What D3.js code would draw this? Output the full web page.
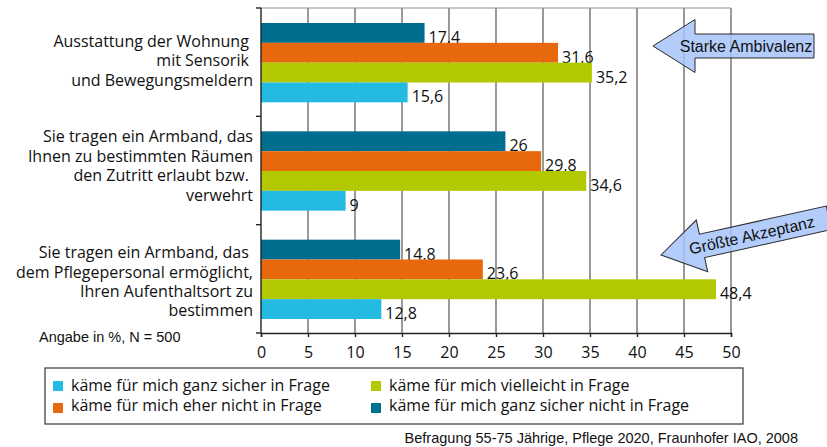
<!DOCTYPE html>
<html>
<head>
<meta charset="utf-8">
<script src="https://cdn.jsdelivr.net/npm/d3@7"></script>
<style>
  body { margin: 0; background: #fff; }
  text { white-space: pre; }
</style>
</head>
<body>
<script>
// categories (top to bottom), each as wrapped lines
const categories = [
  ["Ausstattung der Wohnung ", "mit Sensorik ", "und Bewegungsmeldern"],
  ["Sie tragen ein Armband, das", "Ihnen zu bestimmten Räumen", "den Zutritt erlaubt bzw. ", "verwehrt"],
  ["Sie tragen ein Armband, das ", "dem Pflegepersonal ermöglicht,", "Ihren Aufenthaltsort zu", "bestimmen"]
];
// series, in the order they appear inside a group (top to bottom)
const seriesNames = [
  "käme für mich ganz sicher nicht in Frage",
  "käme für mich eher nicht in Frage",
  "käme für mich vielleicht in Frage",
  "käme für mich ganz sicher in Frage"
];
const seriesColors = ["#006f8f", "#e8690d", "#b2c800", "#25bae2"];
const ganzSicherNicht = [17.4, 26, 14.8];
const eherNicht = [31.6, 29.8, 23.6];
const vielleicht = [35.2, 34.6, 48.4];
const ganzSicher = [15.6, 9, 12.8];
const seriesValues = [ganzSicherNicht, eherNicht, vielleicht, ganzSicher];
const xTicks = [0, 5, 10, 15, 20, 25, 30, 35, 40, 45, 50];
// legend order (column-major, like the original)
const legendOrder = [3, 1, 2, 0];

const width = 827, height = 447;
const plot = { left: 261, right: 731, top: 8, bottom: 333 };
const labelFont = "'Open Sans', 'Noto Sans', sans-serif";
const arialFont = "'Liberation Sans', Arial, sans-serif";
// small vertical nudges of the category label blocks (as in the original)
const labelNudge = [4, 1, 8.5];

const svg = d3.select("body").append("svg")
  .attr("width", width)
  .attr("height", height);

const x = d3.scaleLinear().domain([0, 50]).range([plot.left, plot.right]);
const y = d3.scaleBand().domain(d3.range(categories.length)).range([plot.top, plot.bottom]);
const inner = d3.scaleBand().domain(d3.range(seriesNames.length))
  .range([15, y.bandwidth() - 14]);

// grid lines
svg.append("g")
  .selectAll("line")
  .data(xTicks.slice(1))
  .enter().append("line")
    .attr("x1", d => x(d)).attr("x2", d => x(d))
    .attr("y1", plot.top).attr("y2", plot.bottom)
    .attr("stroke", "#808080")
    .attr("stroke-width", 1.6);

// top border of plot area
svg.append("line")
  .attr("x1", plot.left).attr("x2", plot.right)
  .attr("y1", plot.top).attr("y2", plot.top)
  .attr("stroke", "#909090")
  .attr("stroke-width", 1);

// bars
seriesValues.forEach((vals, s) => {
  svg.append("g")
    .selectAll("rect")
    .data(vals)
    .enter().append("rect")
      .attr("x", x(0))
      .attr("y", (d, i) => y(i) + inner(s))
      .attr("width", d => x(d) - x(0))
      .attr("height", inner.bandwidth())
      .attr("fill", seriesColors[s]);

  svg.append("g")
    .selectAll("text")
    .data(vals)
    .enter().append("text")
      .attr("x", d => x(d) + 4)
      .attr("y", (d, i) => y(i) + inner(s) + inner.bandwidth())
      .attr("font-family", labelFont)
      .attr("font-size", 16)
      .attr("fill", "#111")
      .text(d => String(d).replace(".", ","));
});

// x axis
const xAxis = svg.append("g")
  .attr("transform", `translate(0,${plot.bottom})`)
  .call(d3.axisBottom(x).tickValues(xTicks).tickSize(4).tickPadding(10).tickFormat(d3.format("d")));
xAxis.select(".domain").attr("stroke", "#222").attr("stroke-width", 1.4);
xAxis.selectAll(".tick line").attr("stroke", "#222").attr("stroke-width", 1.4);
xAxis.selectAll(".tick text")
  .attr("font-family", labelFont)
  .attr("font-size", 16)
  .attr("fill", "#111");

// y axis
const yAxis = svg.append("g").attr("transform", `translate(${plot.left},0)`);
yAxis.append("line")
  .attr("y1", plot.top).attr("y2", plot.bottom)
  .attr("stroke", "#222").attr("stroke-width", 1.4);
yAxis.selectAll("line.tk")
  .data(d3.range(categories.length + 1))
  .enter().append("line")
    .attr("class", "tk")
    .attr("x1", -5).attr("x2", 0)
    .attr("y1", d => plot.top + d * y.step())
    .attr("y2", d => plot.top + d * y.step())
    .attr("stroke", "#222").attr("stroke-width", 1.4);

// category labels
const lineH = 19.4;
categories.forEach((lines, i) => {
  const cy = y(i) + y.bandwidth() / 2;
  const t = svg.append("text")
    .attr("text-anchor", "end")
    .attr("font-family", labelFont)
    .attr("font-size", 16)
    .attr("fill", "#111");
  lines.forEach((ln, j) => {
    t.append("tspan")
      .attr("x", 253)
      .attr("y", cy + (j - (lines.length - 1) / 2) * lineH + labelNudge[i])
      .text(ln);
  });
});

svg.append("text")
  .attr("x", 39).attr("y", 342)
  .attr("font-family", arialFont)
  .attr("font-size", 14.5)
  .attr("fill", "#111")
  .text("Angabe in %, N = 500");

// legend
const legend = svg.append("g");
legend.append("rect")
  .attr("x", 45).attr("y", 368)
  .attr("width", 698).attr("height", 56)
  .attr("fill", "none")
  .attr("stroke", "#444")
  .attr("stroke-width", 1.3);
const legendItems = legend.selectAll("g.item")
  .data(legendOrder)
  .enter().append("g")
    .attr("class", "item")
    .attr("transform", (d, i) => `translate(${i < 2 ? 53 : 371},${381 + (i % 2) * 22})`);
legendItems.append("rect")
  .attr("width", 10).attr("height", 10)
  .attr("fill", d => seriesColors[d]);
legendItems.append("text")
  .attr("x", 18).attr("y", (d, i) => 10 - (i % 2) * 2.5)
  .attr("font-family", labelFont)
  .attr("font-size", 16)
  .attr("fill", "#111")
  .text(d => seriesNames[d]);

// callout arrows
function arrowPath(len) {
  // tip at (0,0), pointing left
  return `M0,0 L42,-26.5 L42,-12 L${len},-12 L${len},12 L42,12 L42,26.5 Z`;
}
const arrows = [
  { tipX: 653, tipY: 46, len: 161, angle: 0, label: "Starke Ambivalenz" },
  { tipX: 661, tipY: 255, len: 172, angle: -12.5, label: "Größte Akzeptanz" }
];
arrows.forEach(a => {
  const g = svg.append("g")
    .attr("transform", `translate(${a.tipX},${a.tipY}) rotate(${a.angle})`);
  g.append("path")
    .attr("d", arrowPath(a.len))
    .attr("fill", "#a6c3f8")
    .attr("fill-opacity", 0.85)
    .attr("stroke", "#2a2a2a")
    .attr("stroke-width", 1);
  g.append("text")
    .attr("x", 93)
    .attr("y", 6)
    .attr("text-anchor", "middle")
    .attr("font-family", arialFont)
    .attr("font-size", 16)
    .attr("fill", "#111")
    .text(a.label);
});

svg.append("text")
  .attr("x", 798).attr("y", 443)
  .attr("text-anchor", "end")
  .attr("font-family", arialFont)
  .attr("font-size", 14.5)
  .attr("fill", "#111")
  .text("Befragung 55-75 Jährige, Pflege 2020, Fraunhofer IAO, 2008");
</script>
</body>
</html>
